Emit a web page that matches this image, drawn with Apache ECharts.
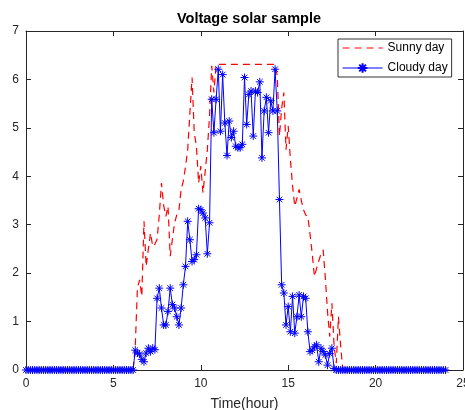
<!DOCTYPE html>
<html>
<head>
<meta charset="utf-8">
<script src="https://cdn.jsdelivr.net/npm/echarts@6/dist/echarts.min.js"></script>
<style>
html,body{margin:0;padding:0;background:#fff;}
#chart{width:465px;height:410px;}
</style>
</head>
<body>
<div id="chart"></div>
<script>
// Sampling step between readings, in hours (7.5 min)
const sampleStepHours = 0.125;

// Sunny day voltage, one value per sample from 0 h to 24 h
const sunnyDay = [
  0,0,0,0,0,0,0,0,0,0,
  0,0,0,0,0,0,0,0,0,0,
  0,0,0,0,0,0,0,0,0,0,
  0,0,0,0,0,0,0,0,0,0,
  0,0,0,0,0,0,0,0,0,0,
  0.48,1.7,1.86,1.52,3.07,2.14,2.5,2.83,2.55,2.6,
  2.7,3.2,3.86,3.4,3.17,3.38,2.35,2.7,3.04,3.2,
  3.3,3.73,3.9,4.2,4.55,5.3,6.04,4.9,4.62,3.86,
  4.21,3.66,4.1,4.55,5.24,6.28,5.73,
  6.31,6.31,6.31,6.31,6.31,6.31,6.31,6.31,6.31,6.31,
  6.31,6.31,6.31,6.31,6.31,6.31,6.31,6.31,6.31,6.31,
  6.31,6.31,6.31,6.31,6.31,6.31,6.31,6.31,
  6.07,4.83,5.4,5.73,4.55,5.04,4.35,3.8,3.38,3.55,
  3.73,3.5,3.31,3.2,3.17,2.8,2.4,1.93,2.1,2.25,
  2.4,2.48,1.9,1.2,0.69,1.38,0.5,0.14,1.1,0.5,
  0,0,0,0,0,0,0,0,0,0,
  0,0,0,0,0,0,0,0,0,0,
  0,0,0,0,0,0,0,0,0,0,
  0,0,0,0,0,0,0,0,0,0,
  0,0,0,0,0,0,0,0
];

// Cloudy day voltage, one value per sample from 0 h to 24 h
const cloudyDay = [
  0,0,0,0,0,0,0,0,0,0,
  0,0,0,0,0,0,0,0,0,0,
  0,0,0,0,0,0,0,0,0,0,
  0,0,0,0,0,0,0,0,0,0,
  0,0,0,0,0,0,0,0,0,0,
  0.41,0.35,0.33,0.22,0.17,0.35,0.45,0.38,0.45,0.42,
  1.48,1.69,1.28,0.93,0.93,1.21,1.69,1.35,1.28,1.1,
  0.93,1.28,1.76,2.14,3.07,2.69,2.24,2.28,2.38,3.33,
  3.31,3.24,3.14,2.4,3.04,
  5.59,4.9,5.59,6.21,4.93,6.1,5.1,4.43,5.14,4.8,
  4.93,4.62,4.59,4.59,4.66,6.04,5.07,5.69,5.76,4.83,
  5.76,5.73,5.95,4.38,5.35,5.63,4.9,5.56,5.35,6.21,
  5.35,3.52,1.76,1.59,0.93,1.31,0.79,1.52,0.76,1.1,
  1.55,1.1,1.52,1.48,0.79,0.38,0.41,0.48,0.52,0.17,
  0.45,0.38,0.31,0.1,0.34,0.45,0.03,
  0,0,0,0,0,0,0,0,0,0,
  0,0,0,0,0,0,0,0,0,0,
  0,0,0,0,0,0,0,0,0,0,
  0,0,0,0,0,0,0,0,0,0,
  0,0,0,0,0,0,0,0,0,0,
  0
];

const seriesNames = ['Sunny day', 'Cloudy day'];
const titleText = 'Voltage solar sample';
const xAxisName = 'Time(hour)';
const xTicks = { min: 0, max: 25, interval: 5 };
const yTicks = { min: 0, max: 7, interval: 1 };

const sunnyPairs = sunnyDay.map((v, i) => [i * sampleStepHours, v]);
const cloudyPairs = cloudyDay.map((v, i) => [i * sampleStepHours, v]);

const axisColor = '#262626';
const asterisk = 'path://M0,5L10,5M5,0L5,10M1.5,1.5L8.5,8.5M8.5,1.5L1.5,8.5';

const chart = echarts.init(document.getElementById('chart'), null, { renderer: 'canvas' });
const baseAxis = {
  type: 'value',
  axisLine: { show: true, onZero: false, lineStyle: { color: axisColor, width: 1 } },
  axisTick: { show: true, inside: true, length: 5, lineStyle: { color: axisColor } },
  splitLine: { show: false }
};
chart.setOption({
  animation: false,
  backgroundColor: '#ffffff',
  title: {
    text: titleText,
    left: 172, top: 6,
    textStyle: { fontFamily: 'Liberation Sans, Arial, sans-serif', fontSize: 14.5, fontWeight: 'bold', color: '#000' }
  },
  legend: {
    orient: 'vertical',
    left: 338, top: 39,
    padding: [3, 4, 3, 4],
    borderColor: '#333',
    borderWidth: 1,
    backgroundColor: '#fff',
    itemWidth: 40, itemHeight: 12, itemGap: 8,
    textStyle: { fontFamily: 'Liberation Sans, Arial, sans-serif', fontSize: 12, color: '#000' },
    data: [
      { name: seriesNames[0], itemStyle: { opacity: 0 }, lineStyle: { width: 1.2 } },
      { name: seriesNames[1], lineStyle: { width: 1 } }
    ]
  },
  grid: { left: 26, right: 2, top: 31, bottom: 40, containLabel: false, outerBoundsMode: 'none' },
  xAxis: [
    Object.assign({}, baseAxis, {
      min: xTicks.min, max: xTicks.max, interval: xTicks.interval,
      position: 'bottom',
      axisLabel: { color: axisColor, fontSize: 12, margin: 8, fontFamily: 'Liberation Sans, Arial, sans-serif' },
      name: xAxisName, nameLocation: 'middle', nameGap: 27,
      nameTextStyle: { fontSize: 14, color: axisColor, fontFamily: 'Liberation Sans, Arial, sans-serif' }
    }),
    Object.assign({}, baseAxis, {
      min: xTicks.min, max: xTicks.max, interval: xTicks.interval,
      position: 'top', axisLabel: { show: false }
    })
  ],
  yAxis: [
    Object.assign({}, baseAxis, {
      min: yTicks.min, max: yTicks.max, interval: yTicks.interval,
      position: 'left',
      axisLabel: { color: axisColor, fontSize: 12, margin: 7, fontFamily: 'Liberation Sans, Arial, sans-serif' }
    }),
    Object.assign({}, baseAxis, {
      min: yTicks.min, max: yTicks.max, interval: yTicks.interval,
      position: 'right', axisLabel: { show: false }
    })
  ],
  series: [
    {
      name: seriesNames[0],
      type: 'line',
      data: sunnyPairs,
      symbol: 'none',
      z: 2,
      itemStyle: { color: '#ff0000' },
      lineStyle: { color: '#ff0000', width: 1.2, type: [7, 5] }
    },
    {
      name: seriesNames[1],
      type: 'line',
      data: cloudyPairs,
      symbol: asterisk,
      symbolSize: 8,
      z: 3,
      itemStyle: { color: 'rgba(0,0,0,0)', borderColor: '#0000ff', borderWidth: 1 },
      lineStyle: { color: '#0000ff', width: 1 }
    }
  ]
});
</script>
</body>
</html>
